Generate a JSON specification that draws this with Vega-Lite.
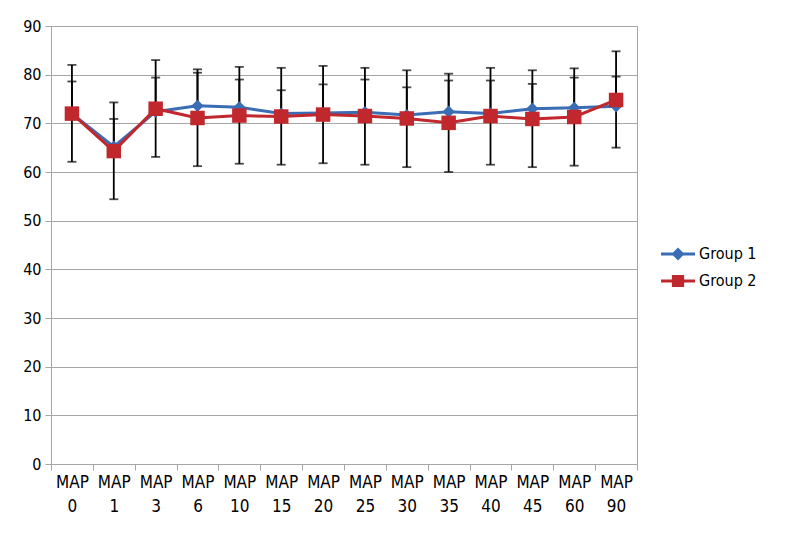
{
  "$schema": "https://vega.github.io/schema/vega-lite/v6.json",
  "width": 586,
  "height": 438,
  "autosize": "none",
  "padding": {"left": 51, "top": 26, "right": 163, "bottom": 76},
  "background": "white",
  "config": {
    "font": "DejaVu Sans Condensed, sans-serif",
    "view": {"stroke": "#a6a6a6", "strokeWidth": 1},
    "axis": {"labelFont": "DejaVu Sans Condensed, sans-serif", "labelColor": "#000000"}
  },
  "data": {
    "values": [
      {"cat": "MAP 0", "group": "Group 1", "mean": 72.0, "lo": 72.0, "hi": 78.6},
      {"cat": "MAP 1", "group": "Group 1", "mean": 65.2, "lo": 65.2, "hi": 70.9},
      {"cat": "MAP 3", "group": "Group 1", "mean": 72.4, "lo": 72.4, "hi": 79.4},
      {"cat": "MAP 6", "group": "Group 1", "mean": 73.6, "lo": 73.6, "hi": 80.4},
      {"cat": "MAP 10", "group": "Group 1", "mean": 73.3, "lo": 73.3, "hi": 79.0},
      {"cat": "MAP 15", "group": "Group 1", "mean": 72.0, "lo": 72.0, "hi": 76.8},
      {"cat": "MAP 20", "group": "Group 1", "mean": 72.1, "lo": 72.1, "hi": 78.0},
      {"cat": "MAP 25", "group": "Group 1", "mean": 72.3, "lo": 72.3, "hi": 79.0},
      {"cat": "MAP 30", "group": "Group 1", "mean": 71.7, "lo": 71.7, "hi": 77.4},
      {"cat": "MAP 35", "group": "Group 1", "mean": 72.4, "lo": 72.4, "hi": 78.8},
      {"cat": "MAP 40", "group": "Group 1", "mean": 72.0, "lo": 72.0, "hi": 78.8},
      {"cat": "MAP 45", "group": "Group 1", "mean": 73.0, "lo": 73.0, "hi": 78.1},
      {"cat": "MAP 60", "group": "Group 1", "mean": 73.2, "lo": 73.2, "hi": 79.4},
      {"cat": "MAP 90", "group": "Group 1", "mean": 73.5, "lo": 73.5, "hi": 79.6},
      {"cat": "MAP 0", "group": "Group 2", "mean": 72.0, "lo": 62.1, "hi": 82.0},
      {"cat": "MAP 1", "group": "Group 2", "mean": 64.3, "lo": 54.4, "hi": 74.3},
      {"cat": "MAP 3", "group": "Group 2", "mean": 73.0, "lo": 63.1, "hi": 83.0},
      {"cat": "MAP 6", "group": "Group 2", "mean": 71.1, "lo": 61.2, "hi": 81.1},
      {"cat": "MAP 10", "group": "Group 2", "mean": 71.6, "lo": 61.7, "hi": 81.6},
      {"cat": "MAP 15", "group": "Group 2", "mean": 71.4, "lo": 61.5, "hi": 81.4},
      {"cat": "MAP 20", "group": "Group 2", "mean": 71.8, "lo": 61.8, "hi": 81.8},
      {"cat": "MAP 25", "group": "Group 2", "mean": 71.5, "lo": 61.5, "hi": 81.4},
      {"cat": "MAP 30", "group": "Group 2", "mean": 71.0, "lo": 61.0, "hi": 80.9},
      {"cat": "MAP 35", "group": "Group 2", "mean": 70.1, "lo": 60.0, "hi": 80.2},
      {"cat": "MAP 40", "group": "Group 2", "mean": 71.5, "lo": 61.5, "hi": 81.4},
      {"cat": "MAP 45", "group": "Group 2", "mean": 70.9, "lo": 61.0, "hi": 80.9},
      {"cat": "MAP 60", "group": "Group 2", "mean": 71.3, "lo": 61.3, "hi": 81.3},
      {"cat": "MAP 90", "group": "Group 2", "mean": 74.8, "lo": 65.0, "hi": 84.8}
    ]
  },
  "encoding": {
    "x": {
      "field": "cat", "type": "nominal", "sort": null,
      "scale": {"paddingInner": 0, "paddingOuter": 0},
      "axis": {
        "title": null, "labelAngle": 0, "labelExpr": "split(datum.label, ' ')",
        "labelFontSize": 17, "labelLineHeight": 24, "labelPadding": 4,
        "tickBand": "extent", "tickSize": 6, "tickColor": "#a6a6a6", "domainColor": "#a6a6a6",
        "labelBaseline": "top", "grid": false
      }
    }
  },
  "layer": [
    {
      "mark": {"type": "rule", "color": "#000000", "strokeWidth": 1.8},
      "encoding": {
        "y": {"field": "lo", "type": "quantitative",
          "scale": {"domain": [0, 90], "nice": false},
          "axis": {"title": null, "values": [0,10,20,30,40,50,60,70,80,90], "labelFontSize": 16, "labelPadding": 4,
            "tickSize": 6, "tickColor": "#a6a6a6", "domainColor": "#a6a6a6", "gridColor": "#a6a6a6", "gridOpacity": 1, "grid": true}},
        "y2": {"field": "hi"}
      }
    },
    {
      "mark": {"type": "tick", "color": "#000000", "size": 9, "thickness": 1.8, "orient": "horizontal"},
      "encoding": {"y": {"field": "hi", "type": "quantitative"}}
    },
    {
      "transform": [{"filter": "datum.group === 'Group 2'"}],
      "mark": {"type": "tick", "color": "#000000", "size": 9, "thickness": 1.8, "orient": "horizontal"},
      "encoding": {"y": {"field": "lo", "type": "quantitative"}}
    },
    {
      "transform": [{"filter": "datum.group === 'Group 1'"}],
      "mark": {"type": "line", "strokeWidth": 3, "color": "#3a6db4"},
      "encoding": {"y": {"field": "mean", "type": "quantitative"}}
    },
    {
      "transform": [{"filter": "datum.group === 'Group 2'"}],
      "mark": {"type": "line", "strokeWidth": 3, "color": "#c0282d"},
      "encoding": {"y": {"field": "mean", "type": "quantitative"}}
    },
    {
      "transform": [{"filter": "datum.group === 'Group 1'"}],
      "mark": {"type": "point", "filled": true, "shape": "diamond", "size": 150, "opacity": 1, "color": "#3a6db4"},
      "encoding": {"y": {"field": "mean", "type": "quantitative"}}
    },
    {
      "transform": [{"filter": "datum.group === 'Group 2'"}],
      "mark": {"type": "point", "filled": true, "shape": "square", "size": 210, "opacity": 1, "color": "#c0282d"},
      "encoding": {"y": {"field": "mean", "type": "quantitative"}}
    },
    {
      "transform": [{"filter": "datum.mean < 0"}],
      "mark": {"type": "point", "filled": true, "opacity": 1, "size": 1156},
      "encoding": {
        "y": {"field": "mean", "type": "quantitative"},
        "color": {"field": "group", "type": "nominal",
          "scale": {"domain": ["Group 1", "Group 2"], "range": ["#3a6db4", "#c0282d"]},
          "legend": {"title": null, "orient": "none", "legendX": 610, "legendY": 211, "padding": 0,
            "symbolOpacity": 1, "symbolStrokeWidth": 0, "symbolSize": 1156, "rowPadding": 2,
            "labelFontSize": 16, "labelOffset": 4, "labelColor": "#000000",
            "labelFont": "DejaVu Sans Condensed, sans-serif"}},
        "shape": {"field": "group", "type": "nominal",
          "scale": {"domain": ["Group 1", "Group 2"], "range": [
            "M-1,-0.09H1V0.09H-1Z M0,-0.38L0.38,0L0,0.38L-0.38,0Z",
            "M-1,-0.09H1V0.09H-1Z M-0.36,-0.36H0.36V0.36H-0.36Z"]}}
      }
    }
  ]
}
